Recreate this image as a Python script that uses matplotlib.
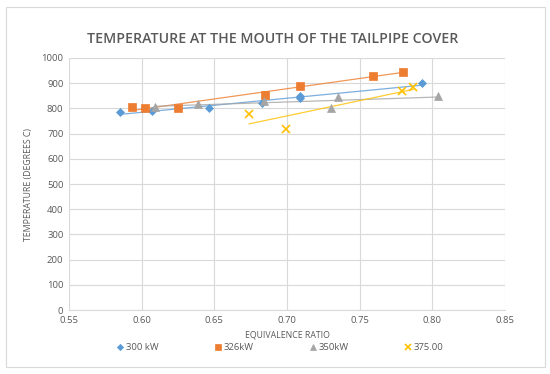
import numpy as np
import matplotlib.pyplot as plt

# equivalence ratio / temperature readings per burner power
x_300 = [0.585, 0.607, 0.646, 0.683, 0.709, 0.709, 0.793]
y_300 = [786, 790, 803, 820, 849, 840, 900]
x_326 = [0.593, 0.602, 0.625, 0.685, 0.709, 0.759, 0.780]
y_326 = [807, 800, 802, 853, 889, 930, 946]
x_350 = [0.609, 0.639, 0.684, 0.730, 0.735, 0.804]
y_350 = [807, 816, 831, 803, 846, 850]
x_375 = [0.674, 0.699, 0.779, 0.787]
y_375 = [778, 718, 870, 883]

labels = ['300 kW', '326kW', '350kW', '375.00']
colors = ['#5B9BD5', '#ED7D31', '#A5A5A5', '#FFC000']
markers = ['D', 's', '^', 'x']
sizes = [4, 5.5, 5.5, 5.5]

txt = '#595959'
plt.rcParams['font.family'] = ['Open Sans', 'DejaVu Sans']

fig = plt.figure(figsize=(5.5, 3.74), dpi=100)
fig.patches.append(plt.Rectangle((0.01, 0.018), 0.98, 0.964, transform=fig.transFigure,
                                 fill=False, edgecolor='#D9D9D9', linewidth=0.8))
ax = fig.add_axes([0.1255, 0.171, 0.7925, 0.674])

series = [(x_300, y_300), (x_326, y_326), (x_350, y_350), (x_375, y_375)]
for (xs, ys), lab, c, m, s in zip(series, labels, colors, markers, sizes):
    xs = np.array(xs)
    ys = np.array(ys)
    k, b = np.polyfit(xs, ys, 1)
    xx = np.array([xs.min(), xs.max()])
    ax.plot(xx, k * xx + b, color=c, linewidth=0.9, alpha=0.8, zorder=2)
    ax.plot(xs, ys, linestyle='none', marker=m, markersize=s, color=c,
            markeredgewidth=1.2 if m == 'x' else 0.5, label=lab, zorder=3)

ax.set_xlim(0.55, 0.85)
ax.set_ylim(0, 1000)
ax.set_xticks(np.arange(0.55, 0.851, 0.05))
ax.set_xticklabels(['0.55', '0.60', '0.65', '0.70', '0.75', '0.80', '0.85'])
ax.set_yticks(range(0, 1001, 100))
ax.grid(True, color='#D9D9D9', linewidth=0.8)
ax.set_axisbelow(True)
for sp in ['top', 'right', 'left']:
    ax.spines[sp].set_visible(False)
ax.spines['bottom'].set_color('#D9D9D9')
ax.tick_params(length=0, colors=txt, labelsize=6.8, pad=4)

ax.set_xlabel('EQUIVALENCE RATIO', fontsize=6.3, color=txt, labelpad=4)
ax.set_ylabel('TEMPERATURE (DEGREES C)', fontsize=6.3, color=txt, labelpad=6)
fig.text(0.495, 0.897, 'TEMPERATURE AT THE MOUTH OF THE TAILPIPE COVER',
         ha='center', va='center', fontsize=10.2, fontweight='semibold', color=txt)

ax.legend(loc='center', bbox_to_anchor=(0.485, -0.15), ncol=4, frameon=False,
          fontsize=6.8, labelcolor=txt, handlelength=0.6, handletextpad=0.3,
          columnspacing=6.0, markerscale=0.8)

fig.savefig('out.png', dpi=100)
